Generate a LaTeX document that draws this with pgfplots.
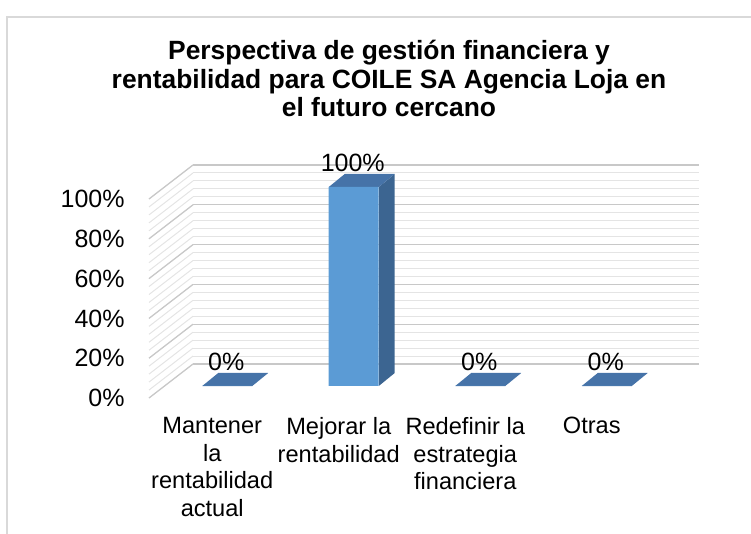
\documentclass[border=0pt]{standalone}
\usepackage{fontspec}
\setmainfont{Liberation Sans}
\usepackage{pgfplots}
\pgfplotsset{compat=1.18}
\definecolor{barfront}{HTML}{5B9BD5}
\definecolor{bartop}{HTML}{4673A8}
\definecolor{barside}{HTML}{3C6591}
\definecolor{gridmaj}{HTML}{C8C8C8}
\definecolor{gridmin}{HTML}{E4E4E4}
\definecolor{framecol}{HTML}{D9D9D9}
\begin{document}
\begin{tikzpicture}
\path[use as bounding box] (0,0) rectangle (375.5pt,-267pt);
\draw[framecol, line width=0.8pt] (3.5pt,-300pt) -- (3.5pt,-8.5pt) -- (400pt,-8.5pt);
\node[anchor=north, align=center, inner sep=0pt, font=\fontsize{13.2}{14.3}\selectfont\bfseries] at (194.5pt,-20pt)
  {Perspectiva de gestión financiera y\\rentabilidad para COILE SA Agencia Loja en\\el futuro cercano};
\begin{axis}[
  at={(96.5pt,-182pt)}, anchor=south west,
  scale only axis, width=253pt, height=99.5pt,
  xmin=-0.5, xmax=3.5, ymin=0, ymax=100,
  clip=false,
  axis line style={draw=none},
  major tick length=0pt, minor tick length=0pt,
  ytick={0,20,...,100}, minor y tick num=4,
  ymajorgrids, yminorgrids,
  major grid style={gridmaj, line width=0.6pt},
  minor grid style={gridmin, line width=0.5pt},
  xtick={0,1,2,3},
  xticklabels={Mantener\\la\\rentabilidad\\actual, Mejorar la\\rentabilidad, Redefinir la\\estrategia\\financiera, Otras},
  xticklabel style={anchor=north, align=center, inner sep=0pt, xshift=-22pt, yshift=-26.5pt, font=\fontsize{11.8}{13.75}\selectfont},
  yticklabel style={anchor=east, inner sep=0pt, xshift=-34pt, yshift=-17pt, font=\fontsize{12.5}{14}\selectfont},
  yticklabel={\pgfmathprintnumber{\tick}\%},
  /pgf/number format/assume math mode=true,
]
% side wall lines
\pgfplotsinvokeforeach{0,4,...,100}{\draw[gridmin, line width=0.5pt] (axis cs:-0.5,#1) -- ++(-22pt,-17pt);}
\pgfplotsinvokeforeach{0,20,...,100}{\draw[gridmaj, line width=0.6pt] (axis cs:-0.5,#1) -- ++(-22pt,-17pt);}
% top faces of the flat (0%) bars
\addplot[fill=bartop, draw=none] coordinates {(-0.4268,-11.06) (-0.0316,-11.06) (0.0948,-4.52) (-0.3004,-4.52)} -- cycle;
\addplot[fill=bartop, draw=none] coordinates {(1.5732,-11.06) (1.9684,-11.06) (2.0948,-4.52) (1.6996,-4.52)} -- cycle;
\addplot[fill=bartop, draw=none] coordinates {(2.5732,-11.06) (2.9684,-11.06) (3.0948,-4.52) (2.6996,-4.52)} -- cycle;
% 100% bar: side and top faces
\addplot[fill=barside, draw=none] coordinates {(0.9684,-11.06) (0.9684,88.94) (1.0948,95.48) (1.0948,-4.52)} -- cycle;
\addplot[fill=bartop, draw=none] coordinates {(0.5732,88.94) (0.9684,88.94) (1.0948,95.48) (0.6996,95.48)} -- cycle;
% front faces
\addplot[ybar, bar width=25pt, bar shift=-14.5pt, fill=barfront, draw=none, yshift=-11pt]
  coordinates {(0,0) (1,100) (2,0) (3,0)};
% value labels
\addplot[draw=none, mark=none, nodes near coords={\pgfmathprintnumber{\pgfplotspointmeta}\%},
  nodes near coords style={anchor=base, inner sep=0pt, xshift=-15pt, yshift=-3.5pt, font=\fontsize{12.5}{14}\selectfont, text=black}]
  coordinates {(0,0) (1,100) (2,0) (3,0)};
\end{axis}
\end{tikzpicture}
\end{document}
